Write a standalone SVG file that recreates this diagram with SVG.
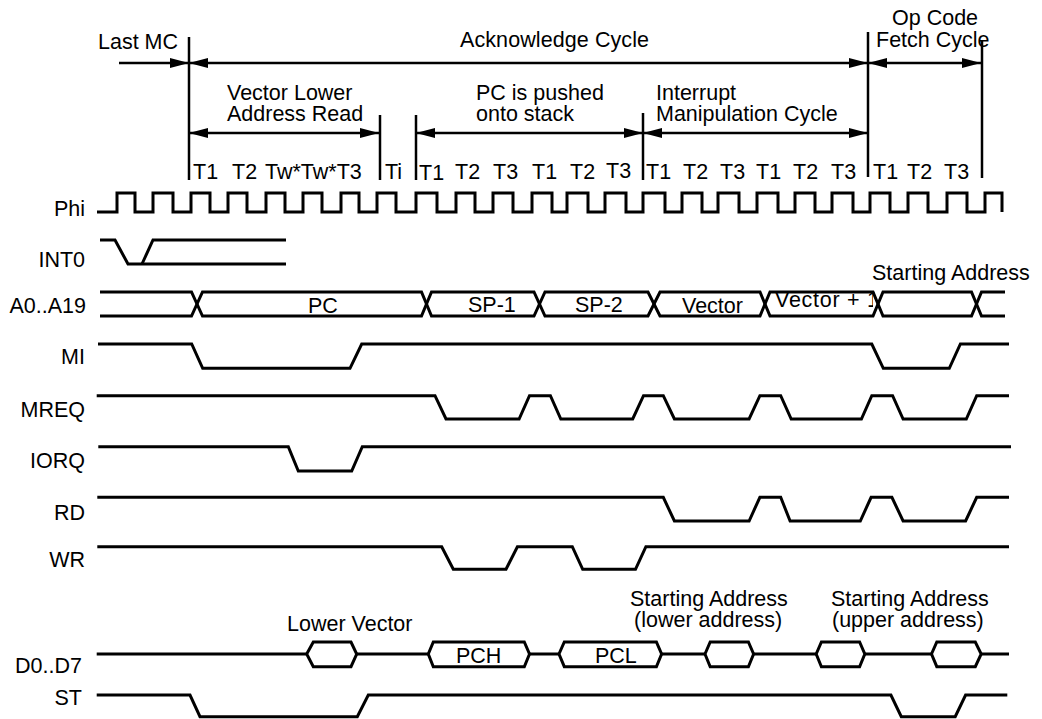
<svg xmlns="http://www.w3.org/2000/svg" width="1042" height="719" viewBox="0 0 1042 719">
<style>
text{font-family:"Liberation Sans",Arial,sans-serif;font-size:21.5px;fill:#000}
.lbl{text-anchor:end}
.sig{fill:none;stroke:#000;stroke-width:3;stroke-linejoin:miter}
.vl{stroke:#000;stroke-width:2.5}
.ar{stroke:#000;stroke-width:2.5;fill:none}
.hex{fill:#fff;stroke:#000;stroke-width:3}
</style>
<defs>
<marker id="ah" viewBox="0 0 19 10" refX="19" refY="5" markerWidth="19" markerHeight="10" markerUnits="userSpaceOnUse" orient="auto-start-reverse">
<path d="M0,0 L19,5 L0,10 z" fill="#000"/>
</marker>
<clipPath id="clipV1"><polygon points="760,280 877,280 877,296 873,296 873,320 760,320"/></clipPath>
</defs>
<rect width="1042" height="719" fill="#fff"/>

<g id="header">
<g id="vlines">
<line class="vl" x1="189" y1="37" x2="189" y2="180"/>
<line class="vl" x1="380" y1="115" x2="380" y2="180"/>
<line class="vl" x1="416" y1="115" x2="416" y2="180"/>
<line class="vl" x1="643" y1="113" x2="643" y2="180"/>
<line class="vl" x1="868" y1="32" x2="868" y2="177"/>
<line class="vl" x1="982" y1="40" x2="982" y2="178"/>
</g>
<g id="arrows">
<line class="ar" x1="119" y1="63" x2="189" y2="63" marker-end="url(#ah)"/>
<line class="ar" x1="189" y1="63" x2="868" y2="63" marker-start="url(#ah)" marker-end="url(#ah)"/>
<line class="ar" x1="868" y1="63" x2="981" y2="63" marker-start="url(#ah)" marker-end="url(#ah)"/>
<line class="ar" x1="189" y1="133" x2="379" y2="133" marker-start="url(#ah)" marker-end="url(#ah)"/>
<line class="ar" x1="416" y1="133" x2="643" y2="133" marker-start="url(#ah)" marker-end="url(#ah)"/>
<line class="ar" x1="643" y1="133" x2="868" y2="133" marker-start="url(#ah)" marker-end="url(#ah)"/>
</g>
<g id="cycle-labels">
<text x="98" y="49">Last MC</text>
<text x="460" y="47" textLength="189">Acknowledge Cycle</text>
<text x="892" y="25">Op Code</text>
<text x="876" y="47">Fetch Cycle</text>
<text x="227" y="100">Vector Lower</text>
<text x="227" y="121">Address Read</text>
<text x="476" y="100">PC is pushed</text>
<text x="476" y="121">onto stack</text>
<text x="656" y="100">Interrupt</text>
<text x="656" y="121">Manipulation Cycle</text>
</g>
<g id="t-states">
<text x="193" y="179">T1</text>
<text x="232" y="179">T2</text>
<text x="265" y="179">Tw*Tw*T3</text>
<text x="385" y="179">Ti</text>
<text x="419" y="180">T1</text>
<text x="455" y="179">T2</text>
<text x="493" y="179">T3</text>
<text x="532" y="179">T1</text>
<text x="570" y="179">T2</text>
<text x="606" y="178">T3</text>
<text x="646" y="179">T1</text>
<text x="683" y="179">T2</text>
<text x="720" y="179">T3</text>
<text x="756" y="179">T1</text>
<text x="793" y="179">T2</text>
<text x="831" y="179">T3</text>
<text x="873" y="179">T1</text>
<text x="907" y="179">T2</text>
<text x="944" y="179">T3</text>
</g>
</g>

<g id="sig-phi">
<text class="lbl" x="85" y="216">Phi</text>
<path class="sig" d="M97,212 H117 V193 H135 V212 H153 V193 H173 V212 H191 V193 H210 V212 H228 V193 H247 V212 H266 V193 H285 V212 H303 V193 H322 V212 H341 V193 H359 V212 H377 V193 H396 V212 H416 V193 H437 V212 H456 V193 H475 V212 H493 V193 H513 V212 H532 V193 H552 V212 H567 V193 H588 V212 H605 V193 H626 V212 H643 V193 H665 V212 H682 V193 H702 V212 H718 V193 H739 V212 H757 V193 H778 V212 H795 V193 H815 V212 H832 V193 H853 V212 H870 V193 H890 V212 H908 V193 H928 V212 H947 V193 H967 V212 H985 V193 H1002 V212"/>
</g>

<g id="sig-int0">
<text class="lbl" x="85" y="267">INT0</text>
<path class="sig" d="M100,240 H115 L128,264 H286"/>
<path class="sig" d="M142,264 L153,240 H286"/>
</g>

<g id="sig-addr">
<text class="lbl" x="86" y="313">A0..A19</text>
<path class="sig" d="M100,292 H191.5 L202.5,316 H421.5 L431.5,292 H534 L545,316 H648 L660,292 H760 L770,316 H873 L883,292 H971.5 L981.5,316 H1005"/>
<path class="sig" d="M100,316 H191.5 L202.5,292 H421.5 L431.5,316 H534 L545,292 H648 L660,316 H760 L770,292 H873 L883,316 H971.5 L981.5,292 H1005"/>
<text x="308" y="313">PC</text>
<text x="468" y="312">SP-1</text>
<text x="575" y="312">SP-2</text>
<text x="682" y="313">Vector</text>
<text x="775" y="307" textLength="104" clip-path="url(#clipV1)">Vector + 1</text>
<text x="872" y="280">Starting Address</text>
</g>

<g id="sig-mi">
<text class="lbl" x="85" y="364">MI</text>
<path class="sig" d="M98,344 H191.7 L202.7,368.3 H350 L361.7,344 H871.8 L883.3,368.3 H949.3 L960.4,344 H1009"/>
</g>

<g id="sig-mreq">
<text class="lbl" x="85" y="417">MREQ</text>
<path class="sig" d="M96.7,395.7 H435 L446,419 H519.1 L529.5,395.7 H550.4 L560.8,419 H632.7 L643.5,395.7 H663.3 L674.4,419 H749.1 L759.9,395.7 H780.7 L791.2,419 H861.4 L871.8,395.7 H892.6 L903.1,419 H966.3 L976.7,395.7 H1009"/>
</g>

<g id="sig-iorq">
<text class="lbl" x="85" y="468">IORQ</text>
<path class="sig" d="M98.3,446.7 H288.3 L298.3,471 H351.7 L362.3,446.7 H1011"/>
</g>

<g id="sig-rd">
<text class="lbl" x="85" y="520">RD</text>
<path class="sig" d="M97.3,497.3 H663.3 L674.4,521 H749.1 L759.9,497.3 H780.7 L790.1,521 H860.3 L871.1,497.3 H891.9 L903.1,521 H965.6 L976.7,497.3 H1009"/>
</g>

<g id="sig-wr">
<text class="lbl" x="85" y="567">WR</text>
<path class="sig" d="M97.3,546.7 H441.7 L453.3,569.3 H506 L517.4,546.7 H572.3 L582.7,569.3 H635.5 L645.9,546.7 H1009"/>
</g>

<g id="sig-data">
<text class="lbl" x="82" y="673">D0..D7</text>
<path class="sig" d="M96.7,654 H306.7 M356.7,654 H428.3 M529.5,654 H559 M661.6,654 H705 M753.6,654 H816.2 M864.8,654 H931.5 M981.2,654 H1009"/>
<polygon class="hex" points="306.7,654 313.3,642 351,642 356.7,654 351,666.7 313.3,666.7"/>
<polygon class="hex" points="428.3,654 433.3,642 524.3,642 529.5,654 524.3,666.7 433.3,666.7"/>
<polygon class="hex" points="559,654 564.3,642 656.4,642 661.6,654 656.4,666.7 564.3,666.7"/>
<polygon class="hex" points="705,654 710.2,642 748.4,642 753.6,654 748.4,666.7 710.2,666.7"/>
<polygon class="hex" points="816.2,654 821.4,642 859.6,642 864.8,654 859.6,666.7 821.4,666.7"/>
<polygon class="hex" points="931.5,654 936.8,642 975.3,642 981.2,654 975.3,666.7 936.8,666.7"/>
<text x="287" y="631">Lower Vector</text>
<text x="456" y="663">PCH</text>
<text x="595" y="663">PCL</text>
<text x="630" y="606">Starting Address</text>
<text x="634" y="627">(lower address)</text>
<text x="831" y="606">Starting Address</text>
<text x="832" y="627">(upper address)</text>
</g>

<g id="sig-st">
<text class="lbl" x="82" y="705">ST</text>
<path class="sig" d="M96.7,695 H190 L200,716.7 H357.3 L368.3,695 H890.9 L901.3,716.7 H955.2 L965.6,695 H1007.3"/>
</g>
</svg>
